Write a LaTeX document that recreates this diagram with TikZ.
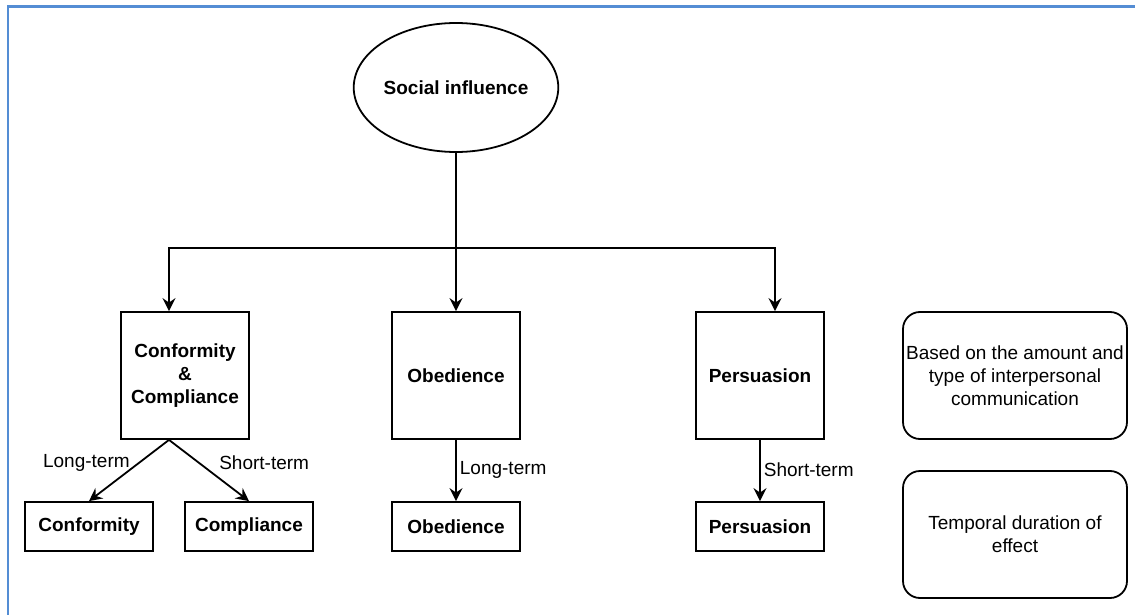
\documentclass[tikz,border=0pt]{standalone}
\usepackage{fontspec}
\setmainfont{Liberation Sans}
\usetikzlibrary{shapes.geometric,arrows.meta}
\definecolor{framecol}{RGB}{84,141,212}
\begin{document}
\begin{tikzpicture}[x=1pt,y=-1pt,
  txt/.style={font=\fontsize{19}{23}\selectfont},
  box/.style={draw, line width=1.8pt, minimum width=128pt, inner sep=0pt, align=center, font=\fontsize{19}{23}\selectfont\bfseries},
  tall/.style={box, minimum height=127pt},
  small/.style={box, minimum height=49pt},
  note/.style={draw, line width=1.8pt, rounded corners=17pt, minimum width=224pt, minimum height=127pt, align=center, inner sep=0pt, txt},
  arr/.style={line width=1.8pt, -{Stealth[length=13pt,width=13pt,inset=4.5pt]}},
  lbl/.style={txt, inner sep=0pt}
]
\clip (0,0) rectangle (1135,615);
\useasboundingbox (0,0) rectangle (1135,615);
\draw[color=framecol, line width=2.5pt] (8,6.5) rectangle (1200,700);

\node[ellipse, draw, line width=1.8pt, minimum width=192pt, minimum height=129pt, inner sep=0pt, font=\fontsize{19}{23}\selectfont\bfseries] (si) at (456,87.5) {Social influence};
\node[tall] (b1) at (185,375.5) {Conformity\\\&\\Compliance};
\node[tall] (b2) at (456,375.5) {Obedience};
\node[tall] (b3) at (760,375.5) {Persuasion};
\node[small] (c1) at (89,526.5) {Conformity};
\node[small] (c2) at (249,526.5) {Compliance};
\node[small] (c3) at (456,526.5) {Obedience};
\node[small] (c4) at (760,526.5) {Persuasion};
\node[note] (n1) at (1015,375.5) {Based on the amount and\\type of interpersonal\\communication};
\node[note] (n2) at (1015,534.5) {Temporal duration of\\effect};

\coordinate (j) at (456,248);
\draw[line width=1.8pt] (si.south) -- (j);
\draw[arr] (j) -| ([xshift=-16pt]b1.north);
\draw[arr] (j) -- (b2.north);
\draw[arr] (j) -| ([xshift=15pt]b3.north);
\draw[arr] ([xshift=-16pt]b1.south) -- node[lbl, pos=0.38, anchor=east, xshift=-8pt]{Long-term} (c1.north);
\draw[arr] ([xshift=-16pt]b1.south) -- node[lbl, pos=0.38, anchor=west, xshift=19pt]{Short-term} (c2.north);
\draw[arr] (b2.south) -- node[lbl, pos=0.49, anchor=west, xshift=3pt]{Long-term} (c3.north);
\draw[arr] (b3.south) -- node[lbl, pos=0.49, anchor=west, xshift=3pt]{Short-term} (c4.north);
\end{tikzpicture}
\end{document}
